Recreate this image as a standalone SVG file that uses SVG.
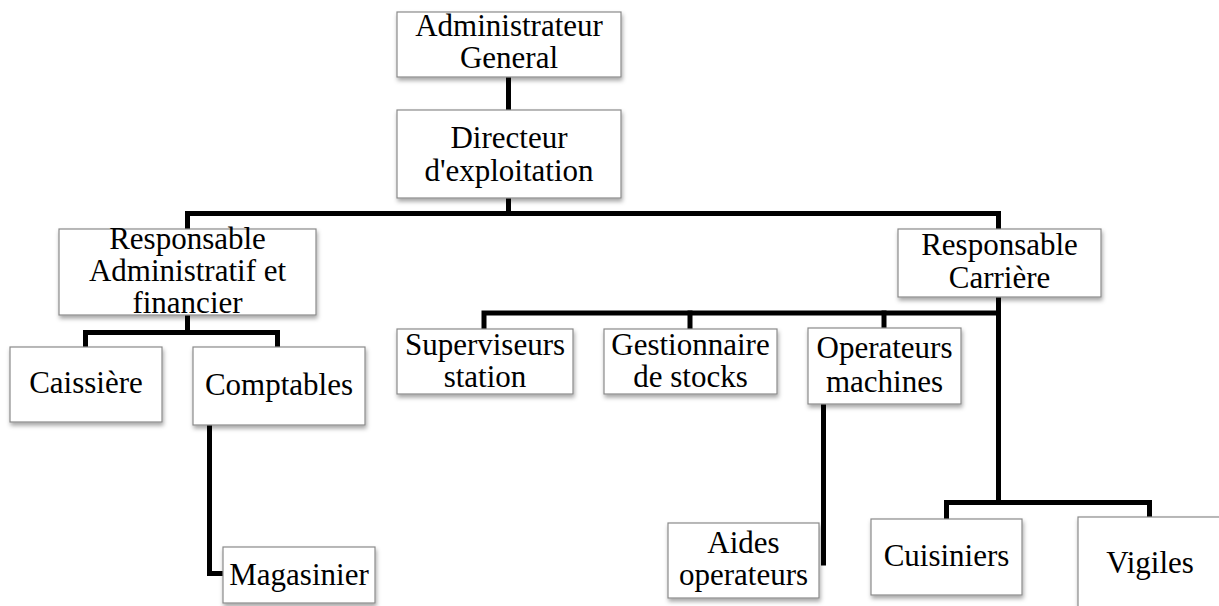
<svg xmlns="http://www.w3.org/2000/svg" width="1219" height="606" viewBox="0 0 1219 606">
<style>
.box{fill:#fff;stroke:#8a8a8a;stroke-width:1.2;filter:url(#sh)}
.t{font-family:"Liberation Serif","Times New Roman",serif;font-size:31px;fill:#000;text-anchor:middle}
.c{fill:none;stroke:#000;stroke-width:5;stroke-linejoin:miter;stroke-linecap:square}
</style>
<defs>
<filter id="sh" x="-10%" y="-10%" width="125%" height="135%">
<feDropShadow dx="1" dy="3" stdDeviation="2" flood-color="#000" flood-opacity="0.35"/>
</filter>
</defs>
<rect width="1219" height="606" fill="#fff"/>
<g id="connectors">
<polyline class="c" points="508.5,77 508.5,110"/>
<polyline class="c" points="508.5,198 508.5,213.5"/>
<polyline class="c" points="187.5,228 187.5,213.5 998.5,213.5 998.5,228"/>
<polyline class="c" points="187.5,315 187.5,332.5"/>
<polyline class="c" points="85.5,346 85.5,332.5 277.5,332.5 277.5,346"/>
<polyline class="c" points="209.5,425 209.5,573.5 221,573.5"/>
<polyline class="c" points="998.5,297 998.5,502.5"/>
<polyline class="c" points="484,328 484,313 998.5,313"/>
<polyline class="c" points="690,313 690,328"/>
<polyline class="c" points="884,313 884,327"/>
<polyline class="c" points="823.5,404 823.5,563"/>
<polyline class="c" points="946.5,518 946.5,502.5 1149.5,502.5 1149.5,516"/>
</g>
<g id="n-admin"><rect class="box" x="397" y="12" width="224" height="65"/><text class="t" x="509" y="36">Administrateur</text><text class="t" x="509" y="68">General</text></g>
<g id="n-directeur"><rect class="box" x="397" y="110" width="224" height="88"/><text class="t" x="509" y="148">Directeur</text><text class="t" x="509" y="181">d'exploitation</text></g>
<g id="n-raf"><rect class="box" x="59" y="229" width="257" height="86"/><text class="t" x="187.5" y="249">Responsable</text><text class="t" x="187.5" y="281">Administratif et</text><text class="t" x="187.5" y="313">financier</text></g>
<g id="n-rc"><rect class="box" x="898" y="229" width="203" height="68"/><text class="t" x="999.5" y="255">Responsable</text><text class="t" x="999.5" y="288">Carrière</text></g>
<g id="n-caissiere"><rect class="box" x="10" y="347" width="152" height="75"/><text class="t" x="86" y="393">Caissière</text></g>
<g id="n-comptables"><rect class="box" x="193" y="347" width="172" height="78"/><text class="t" x="279" y="395">Comptables</text></g>
<g id="n-superviseurs"><rect class="box" x="397" y="329" width="176" height="65"/><text class="t" x="485" y="355">Superviseurs</text><text class="t" x="485" y="387">station</text></g>
<g id="n-gestionnaire"><rect class="box" x="604" y="329" width="173" height="65"/><text class="t" x="690.5" y="355">Gestionnaire</text><text class="t" x="690.5" y="387">de stocks</text></g>
<g id="n-operateurs"><rect class="box" x="808" y="328" width="153" height="76"/><text class="t" x="884.5" y="358">Operateurs</text><text class="t" x="884.5" y="392">machines</text></g>
<g id="n-magasinier"><rect class="box" x="223" y="547" width="152" height="56"/><text class="t" x="299" y="585">Magasinier</text></g>
<g id="n-aides"><rect class="box" x="668" y="523" width="151" height="75"/><text class="t" x="743.5" y="553">Aides</text><text class="t" x="743.5" y="585">operateurs</text></g>
<g id="n-cuisiniers"><rect class="box" x="871" y="519" width="151" height="76"/><text class="t" x="946.5" y="566">Cuisiniers</text></g>
<g id="n-vigiles"><rect class="box" x="1078" y="517" width="146" height="100"/><text class="t" x="1150" y="573">Vigiles</text></g>
</svg>
